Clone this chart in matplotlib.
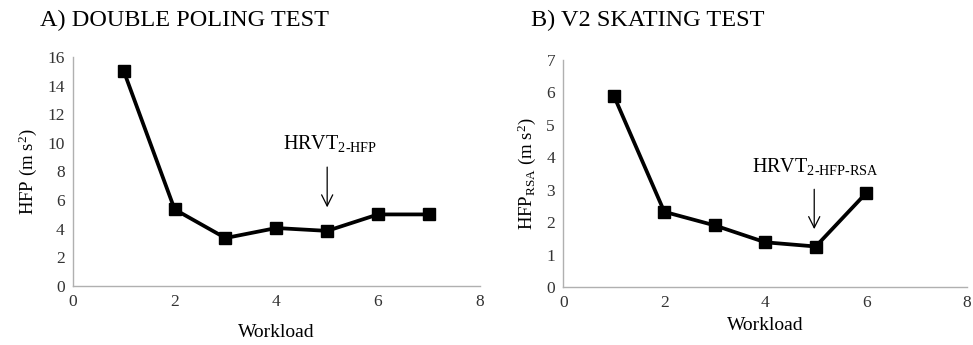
import matplotlib
matplotlib.use("Agg")
import matplotlib.pyplot as plt

# Workload stages and heart-rate variability values for each test
workload_dp = [1, 2, 3, 4, 5, 6, 7]
hfp_dp = [15.0, 5.35, 3.35, 4.05, 3.85, 5.0, 5.0]

workload_v2 = [1, 2, 3, 4, 5, 6]
hfp_v2 = [5.9, 2.32, 1.9, 1.38, 1.25, 2.9]

plt.rcParams['font.family'] = 'Liberation Serif'
plt.rcParams['mathtext.fontset'] = 'custom'
plt.rcParams['mathtext.rm'] = 'Liberation Serif'
plt.rcParams['mathtext.it'] = 'Liberation Serif'

fig = plt.figure(figsize=(9.73, 3.45), dpi=100)
ax1 = fig.add_axes([0.075, 0.171, 0.418, 0.664])
ax2 = fig.add_axes([0.579, 0.168, 0.415, 0.658])


def style_axes(ax, ymax, ystep, xpad):
    ax.set_xlim(0, 8)
    ax.set_ylim(0, ymax)
    ax.set_xticks(range(0, 9, 2))
    ax.set_yticks(range(0, ymax + 1, ystep))
    for side in ['top', 'right']:
        ax.spines[side].set_visible(False)
    for side in ['left', 'bottom']:
        ax.spines[side].set_color('#b0b0b0')
        ax.spines[side].set_linewidth(1.0)
    ax.tick_params(length=0, labelsize=12.5, pad=6, labelcolor='#333333')
    ax.set_xlabel('Workload', fontsize=14, labelpad=xpad)


# A) double poling
ax1.plot(workload_dp, hfp_dp, color='black', lw=2.7, marker='s', ms=8)
style_axes(ax1, 16, 2, 10)
ax1.set_ylabel('HFP (m s$^2$)', fontsize=13.5, labelpad=6)
ax1.annotate('', xy=(5.0, 5.3), xytext=(5.0, 8.5),
             arrowprops=dict(arrowstyle='->', color='black', lw=0.9,
                             mutation_scale=20))
ax1.text(5.05, 9.2, r'HRVT$_{\mathrm{2\text{-}HFP}}$', fontsize=14.5,
         ha='center', va='bottom')
fig.text(0.041, 0.925, 'A) DOUBLE POLING TEST', fontsize=17.5)

# B) V2 skating
ax2.plot(workload_v2, hfp_v2, color='black', lw=2.7, marker='s', ms=8)
style_axes(ax2, 7, 1, 4)
ax2.set_ylabel('HFP$_{\mathrm{RSA}}$ (m s$^2$)', fontsize=13.5, labelpad=6)
ax2.annotate('', xy=(4.97, 1.7), xytext=(4.97, 3.1),
             arrowprops=dict(arrowstyle='->', color='black', lw=0.9,
                             mutation_scale=20))
ax2.text(5.0, 3.4, r'HRVT$_{\mathrm{2\text{-}HFP\text{-}RSA}}$', fontsize=14.5,
         ha='center', va='bottom')
fig.text(0.546, 0.925, 'B) V2 SKATING TEST', fontsize=17.5)

fig.savefig('out.png', dpi=100)
